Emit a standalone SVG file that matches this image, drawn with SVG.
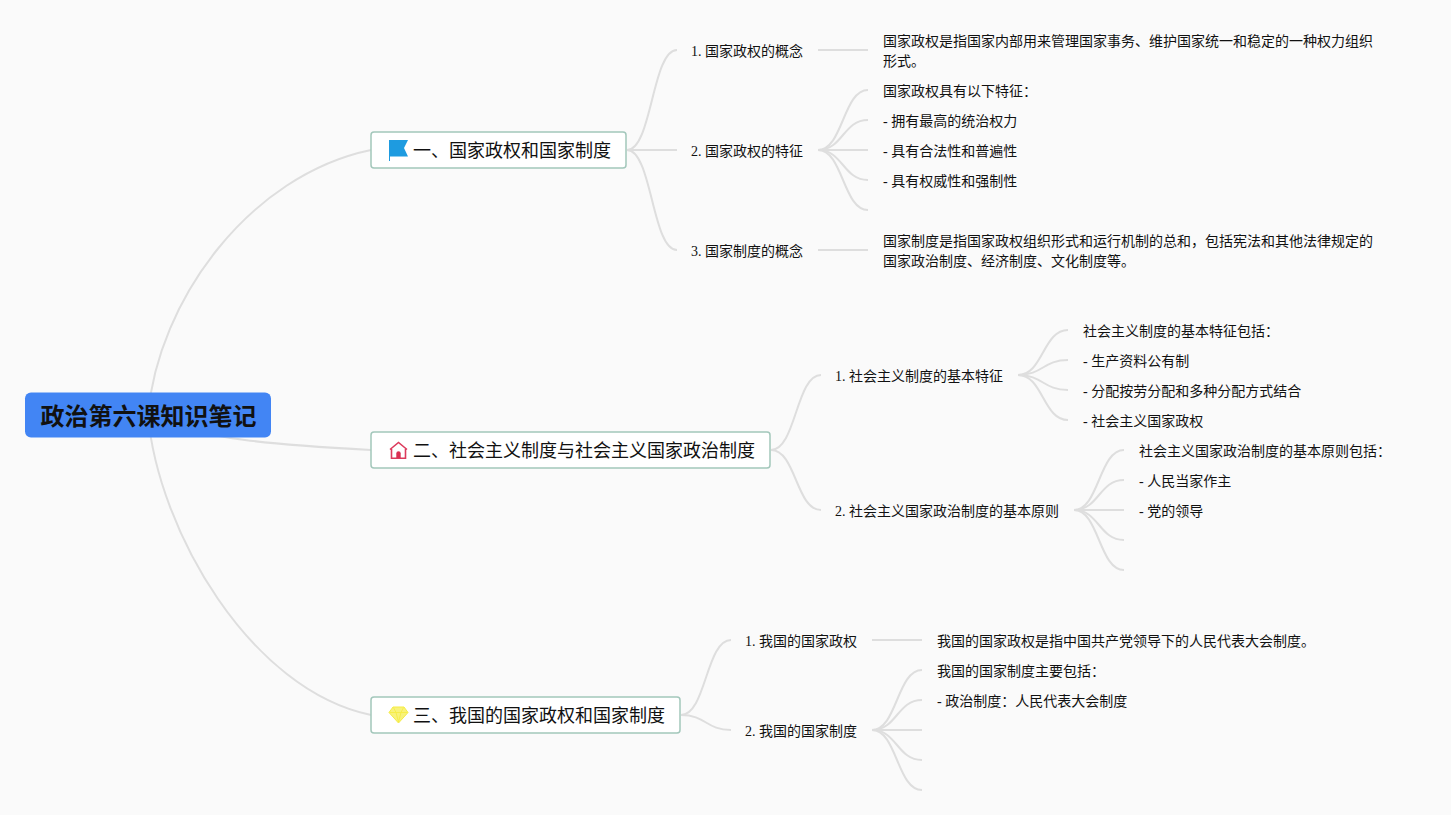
<svg xmlns="http://www.w3.org/2000/svg" width="1451" height="815" viewBox="0 0 1451 815">
<style>
text{font-family:"Liberation Serif","Noto Sans CJK SC",sans-serif;fill:#111}
.t{font-size:14px}
.m{font-size:18px}
.r{font-size:24px;font-weight:700}
.c path{fill:none;stroke:#dedede;stroke-width:2}
.b{fill:#fff;stroke:#a3c7bb;stroke-width:1.5}
</style>
<rect width="1451" height="815" fill="#fafafa"/>
<g id="connectors" class="c">
<path d="M148 415C158 300 250 175 371 150"/>
<path d="M148 415C200 440 280 445 371 450"/>
<path d="M148 415C158 530 250 690 371 715"/>
<path d="M627 150C652 150 652 50 677 50"/>
<path d="M627 150H677"/>
<path d="M627 150C652 150 652 250 677 250"/>
<path d="M818 50H868"/>
<path d="M818 150C843 150 843 90 868 90"/>
<path d="M818 150C843 150 843 120 868 120"/>
<path d="M818 150H868"/>
<path d="M818 150C843 150 843 180 868 180"/>
<path d="M818 150C843 150 843 210 868 210"/>
<path d="M818 250H868"/>
<path d="M771 450C796 450 796 375 821 375"/>
<path d="M771 450C796 450 796 510 821 510"/>
<path d="M1018 375C1043 375 1043 330 1068 330"/>
<path d="M1018 375C1043 375 1043 360 1068 360"/>
<path d="M1018 375C1043 375 1043 390 1068 390"/>
<path d="M1018 375C1043 375 1043 420 1068 420"/>
<path d="M1074 510C1099 510 1099 450 1124 450"/>
<path d="M1074 510C1099 510 1099 480 1124 480"/>
<path d="M1074 510H1124"/>
<path d="M1074 510C1099 510 1099 540 1124 540"/>
<path d="M1074 510C1099 510 1099 570 1124 570"/>
<path d="M681 715C706 715 706 640 731 640"/>
<path d="M681 715C706 715 706 730 731 730"/>
<path d="M872 640H922"/>
<path d="M872 730C897 730 897 670 922 670"/>
<path d="M872 730C897 730 897 700 922 700"/>
<path d="M872 730H922"/>
<path d="M872 730C897 730 897 760 922 760"/>
<path d="M872 730C897 730 897 790 922 790"/>
</g>
<g id="root"><rect x="25" y="392.500" width="246" height="45" rx="6" fill="#4285f4"/><text class="r" x="40.500" y="425">政治第六课知识笔记</text></g>
<g id="n1"><rect class="b" x="371" y="132" width="255" height="36" rx="3"/>
<path d="M389 140H408L404 148 408 156.500H390V161H389Z" fill="#1e9be0"/>
<text class="m" x="413" y="157">一、国家政权和国家制度</text></g>
<g id="n2"><rect class="b" x="371" y="432" width="399" height="36" rx="3"/>
<path d="M390 449.500L398.500 442.500 407 449.500M391.500 449V458.300H405.500V449" fill="none" stroke="#dc3a5c" stroke-width="1.600"/><path d="M396.300 458V453.500A2.200 2.200 0 0 1 400.700 453.500V458Z" fill="#d92f52"/>
<text class="m" x="413" y="457">二、社会主义制度与社会主义国家政治制度</text></g>
<g id="n3"><rect class="b" x="371" y="697" width="309" height="36" rx="3"/>
<path d="M393 707H404L408 712.500 398.500 723 389 712.500Z" fill="#f8f27a" stroke="#f5ec45"/>
<path d="M389.500 712.500H407.500M393.500 707.500L396 712.500 398.500 722 401 712.500 403.500 707.500" fill="none" stroke="#f5ec45" stroke-width=".9"/>
<text class="m" x="413" y="722">三、我国的国家政权和国家制度</text></g>
<g id="a1"><text class="t" x="691" y="56">1. 国家政权的概念</text></g>
<g id="a2"><text class="t" x="691" y="156">2. 国家政权的特征</text></g>
<g id="a3"><text class="t" x="691" y="256">3. 国家制度的概念</text></g>
<g id="b1"><text class="t" x="835" y="381">1. 社会主义制度的基本特征</text></g>
<g id="b2"><text class="t" x="835" y="516">2. 社会主义国家政治制度的基本原则</text></g>
<g id="c1"><text class="t" x="745" y="646">1. 我国的国家政权</text></g>
<g id="c2"><text class="t" x="745" y="736">2. 我国的国家制度</text></g>
<g id="a1t"><text class="t" x="883" y="46">国家政权是指国家内部用来管理国家事务、维护国家统一和稳定的一种权力组织</text><text class="t" x="883" y="66">形式。</text></g>
<g id="a2t"><text class="t" x="883" y="96">国家政权具有以下特征：</text><text class="t" x="883" y="126">- 拥有最高的统治权力</text><text class="t" x="883" y="156">- 具有合法性和普遍性</text><text class="t" x="883" y="186">- 具有权威性和强制性</text></g>
<g id="a3t"><text class="t" x="883" y="246">国家制度是指国家政权组织形式和运行机制的总和，包括宪法和其他法律规定的</text><text class="t" x="883" y="266">国家政治制度、经济制度、文化制度等。</text></g>
<g id="b1t"><text class="t" x="1083" y="336">社会主义制度的基本特征包括：</text><text class="t" x="1083" y="366">- 生产资料公有制</text><text class="t" x="1083" y="396">- 分配按劳分配和多种分配方式结合</text><text class="t" x="1083" y="426">- 社会主义国家政权</text></g>
<g id="b2t"><text class="t" x="1139" y="456">社会主义国家政治制度的基本原则包括：</text><text class="t" x="1139" y="486">- 人民当家作主</text><text class="t" x="1139" y="516">- 党的领导</text></g>
<g id="c1t"><text class="t" x="937" y="646">我国的国家政权是指中国共产党领导下的人民代表大会制度。</text></g>
<g id="c2t"><text class="t" x="937" y="676">我国的国家制度主要包括：</text><text class="t" x="937" y="706">- 政治制度：人民代表大会制度</text></g>
</svg>
